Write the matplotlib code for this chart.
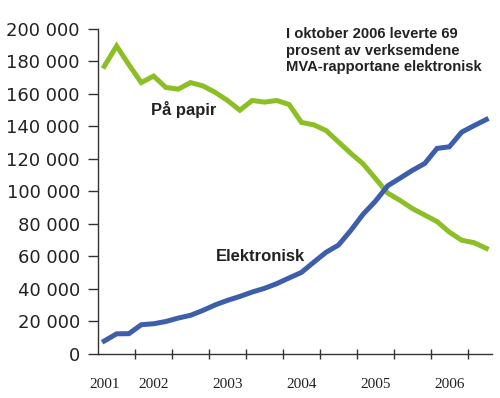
import matplotlib
matplotlib.use('Agg')
import matplotlib.pyplot as plt
import matplotlib.transforms as mtransforms

# bimonthly MVA terms, index 0..31
papir = [177000, 189500, 178000, 167000, 171000, 164000, 163000, 167000,
         165000, 161000, 156000, 150000, 156000, 155000, 156000, 153500,
         142500, 141000, 137500, 130500, 123500, 117000, 108000, 99000,
         94500, 89500, 85500, 81500, 75000, 70000, 68500, 65000]
elektronisk = [8000, 12400, 12500, 18000, 18600, 20000, 22100, 23800,
               26800, 30200, 33000, 35400, 38100, 40400, 43300, 46800,
               50200, 56500, 62600, 67000, 76000, 86000, 94000, 103500,
               108200, 113000, 117200, 126500, 127500, 136500, 140500, 144300]
years = ['2001', '2002', '2003', '2004', '2005', '2006']
year_pos = [0, 4, 10, 16, 22, 28]
yticks = list(range(0, 200001, 20000))

x = list(range(len(papir)))

fig = plt.figure(figsize=(5, 3.98), dpi=100)
ax = fig.add_axes([0.196, 0.1106, 0.787, 0.8166])

ax.plot(x, papir, color='#8cbf26', lw=3.6, solid_joinstyle='miter')
ax.plot(x, elektronisk, color='#3d5fab', lw=3.6, solid_joinstyle='miter')

ax.set_xlim(-0.51, 31.42)
ax.set_ylim(0, 200000)

for s in ['top', 'right']:
    ax.spines[s].set_visible(False)
for s in ['left', 'bottom']:
    ax.spines[s].set_color('#333333')
    ax.spines[s].set_linewidth(1.0)

ax.set_yticks(yticks)
ax.set_yticklabels([f'{v:,}'.replace(',', ' ') for v in yticks])
ax.tick_params(axis='y', direction='out', length=7, width=1, color='#333333',
               labelsize=13, labelcolor='#222222', pad=6)
ax.set_xticks([2.5 + 3 * k for k in range(10)])
ax.set_xticklabels([])
ax.tick_params(axis='x', direction='inout', length=7, width=1, color='#333333')

trans = mtransforms.blended_transform_factory(ax.transData, ax.transAxes)
for yr, p in zip(years, year_pos):
    ax.text(p, -0.095, yr, transform=trans, ha='center', va='center',
            fontsize=11, family='Liberation Serif', color='#222222')

ax.text(6.45, 150500, 'På papir', ha='center', va='center', fontsize=12,
        fontweight='bold', family='Liberation Sans', color='#222222')
ax.text(12.7, 59700, 'Elektronisk', ha='center', va='center', fontsize=12,
        fontweight='bold', family='Liberation Sans', color='#222222')
ax.text(14.75, 201000, 'I oktober 2006 leverte 69\nprosent av verksemdene\nMVA-rapportane elektronisk',
        ha='left', va='top', fontsize=10.6, fontweight='bold', family='Liberation Sans',
        color='#222222', linespacing=1.2)

fig.savefig('out.png', dpi=100)
